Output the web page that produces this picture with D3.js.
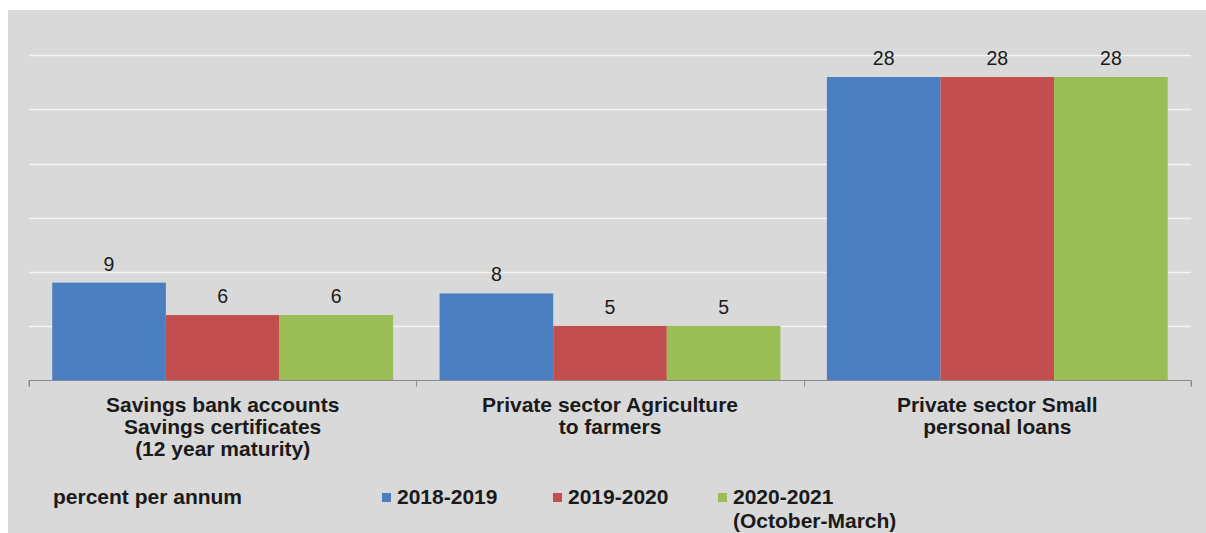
<!DOCTYPE html>
<html><head><meta charset="utf-8">
<script src="https://cdn.jsdelivr.net/npm/d3@7"></script>
<style>body{margin:0;background:#fff}svg{display:block}</style>
</head><body><svg id="c" width="1206" height="533"></svg>
<script>
const categories = [
  ["Savings bank accounts","Savings certificates","(12 year maturity)"],
  ["Private sector Agriculture","to farmers"],
  ["Private sector Small","personal loans"]
];
const categoryKeys = ["savings","agriculture","personal"];
const seriesNames = ["2018-2019","2019-2020","2020-2021"];
const seriesLegendLines = [["2018-2019"],["2019-2020"],["2020-2021","(October-March)"]];
const values2018 = [9, 8, 28];
const values2019 = [6, 5, 28];
const values2020 = [6, 5, 28];
const yTicks = [0,5,10,15,20,25,30];
const unitLabel = "percent per annum";

const colors = ["#4a7ec0","#c24f4d","#9bbd56"];
const seriesValues = [values2018, values2019, values2020];
const FONT = "Liberation Sans, Arial, sans-serif";

const svg = d3.select("#c");
svg.append("rect").attr("x",8).attr("y",10).attr("width",1198).attr("height",523).attr("fill","#d9d9d9");

const x0 = d3.scaleBand().domain(categoryKeys).range([29,1191]).padding(0);
const bw = x0.bandwidth();
const x1 = d3.scaleBand().domain(seriesNames).range([bw*0.06, bw*0.94]).padding(0);
const y = d3.scaleLinear().domain([0,28]).range([380,77]);

// gridlines
svg.append("g").selectAll("line").data(yTicks.filter(d=>d>0)).join("line")
  .attr("x1",29).attr("x2",1191)
  .attr("y1",d=>Math.round(y(d))+0.5).attr("y2",d=>Math.round(y(d))+0.5)
  .attr("stroke","#f4f4f4").attr("stroke-width",1.5);

// bars
const groups = svg.append("g").selectAll("g").data(categoryKeys).join("g")
  .attr("transform",d=>`translate(${x0(d)},0)`);
groups.each(function(k,i){
  const g = d3.select(this);
  seriesNames.forEach((s,j)=>{
    const v = seriesValues[j][i];
    g.append("rect").attr("x",x1(s)).attr("width",x1.bandwidth())
      .attr("y",y(v)).attr("height",y(0)-y(v)).attr("fill",colors[j]);
    g.append("text").attr("x",x1(s)+x1.bandwidth()/2).attr("y",y(v)-12)
      .attr("text-anchor","middle").attr("font-family",FONT)
      .attr("font-size",19.5).attr("fill","#1a1a1a").text(v);
  });
});

// axis
const axis = d3.axisBottom(x0).tickSize(6).tickFormat("");
const ax = svg.append("g").attr("transform","translate(0,380.5)").call(axis);
ax.select(".domain").attr("stroke","#8a8a8a").attr("d","M29,6V0H1191V6");
ax.selectAll(".tick").remove();
ax.selectAll(".bnd").data([...categoryKeys.map(k=>x0(k)),1191]).join("line")
  .attr("x1",d=>Math.round(d)+0.5).attr("x2",d=>Math.round(d)+0.5).attr("y1",0).attr("y2",6)
  .attr("stroke","#8a8a8a");

// category labels
categoryKeys.forEach((k,i)=>{
  const t = svg.append("text").attr("text-anchor","middle")
    .attr("font-family",FONT).attr("font-weight","bold")
    .attr("font-size",21).attr("fill","#1a1a1a");
  categories[i].forEach((line,li)=>{
    t.append("tspan").attr("x",x0(k)+bw/2).attr("y",412+li*22).text(line);
  });
});

// legend
svg.append("text").attr("x",53).attr("y",504).attr("font-family",FONT)
  .attr("font-weight","bold").attr("font-size",21).attr("fill","#1a1a1a").text(unitLabel);
const legendX = [382, 553, 718];
seriesNames.forEach((s,j)=>{
  svg.append("rect").attr("x",legendX[j]).attr("y",493).attr("width",9).attr("height",9).attr("fill",colors[j]);
  const t = svg.append("text").attr("font-family",FONT)
    .attr("font-weight","bold").attr("font-size",21).attr("fill","#1a1a1a");
  seriesLegendLines[j].forEach((line,li)=>{
    t.append("tspan").attr("x",legendX[j]+15).attr("y",504+li*24).text(line);
  });
});
</script></body></html>
